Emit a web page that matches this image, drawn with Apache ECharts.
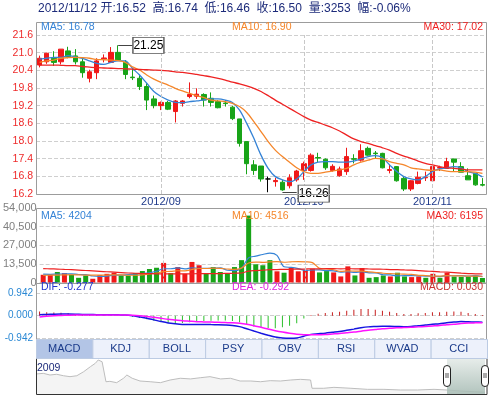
<!DOCTYPE html>
<html><head><meta charset="utf-8">
<script src="https://cdn.jsdelivr.net/npm/echarts@6/dist/echarts.min.js"></script>
<style>html,body{margin:0;padding:0;background:#fff}#c{width:490px;height:396px}</style>
</head><body><div id="c"></div>
<script>
// ---------- data ----------
const dates = ['2012/08/09','2012/08/10','2012/08/13','2012/08/14','2012/08/15','2012/08/16','2012/08/17','2012/08/20','2012/08/21','2012/08/22','2012/08/23','2012/08/24','2012/08/27','2012/08/28','2012/08/29','2012/08/30','2012/08/31',
'2012/09/03','2012/09/04','2012/09/05','2012/09/06','2012/09/07','2012/09/10','2012/09/11','2012/09/12','2012/09/13','2012/09/14','2012/09/17','2012/09/18','2012/09/19','2012/09/20','2012/09/21','2012/09/24','2012/09/25','2012/09/26','2012/09/27','2012/09/28',
'2012/10/08','2012/10/09','2012/10/10','2012/10/11','2012/10/12','2012/10/15','2012/10/16','2012/10/17','2012/10/18','2012/10/19','2012/10/22','2012/10/23','2012/10/24','2012/10/25','2012/10/26','2012/10/29','2012/10/30','2012/10/31',
'2012/11/01','2012/11/02','2012/11/05','2012/11/06','2012/11/07','2012/11/08','2012/11/09','2012/11/12'];
const monthLabels = ['2012/09/03','2012/10/08','2012/11/01'];

const openP  = [20.58,20.69,20.81,20.69,21.06,20.89,20.69,20.13,20.32,20.79,20.67,21.01,20.67,20.17,20.13,19.85,19.43,19.20,19.31,19.00,19.28,19.51,19.52,19.58,19.45,19.34,19.29,19.15,18.75,17.98,17.19,17.15,16.71,16.62,16.60,16.48,16.68,17.00,17.00,17.44,17.38,17.00,16.82,16.96,17.40,17.35,17.75,17.59,17.58,17.00,17.13,16.73,16.37,16.56,16.75,16.65,17.08,17.07,17.39,17.13,16.82,16.90,16.52];
const closeP = [20.81,20.98,20.67,21.12,20.86,20.69,20.32,20.35,20.72,20.82,21.01,20.75,20.26,20.15,19.85,19.39,19.20,19.31,19.08,19.36,19.36,19.58,19.59,19.39,19.31,19.13,19.27,18.76,17.92,17.23,17.00,16.71,16.71,16.66,16.34,16.75,16.98,17.23,17.52,17.42,17.09,17.14,17.05,17.47,17.38,17.67,17.52,17.57,17.09,17.03,16.65,16.37,16.65,16.77,16.77,17.13,17.10,17.30,17.28,16.94,16.68,16.51,16.50];
const lowP   = [20.50,20.62,20.55,20.60,20.81,20.60,20.15,19.99,20.10,20.67,20.65,20.72,20.10,20.07,19.73,19.05,19.11,19.05,19.05,18.63,19.17,19.45,19.43,19.17,19.17,19.11,19.17,18.71,17.81,16.87,16.85,16.62,16.26,16.45,16.31,16.39,16.62,16.68,16.96,17.28,17.02,16.96,16.79,16.85,17.24,17.30,17.50,17.41,17.07,16.90,16.62,16.30,16.30,16.53,16.64,16.65,16.98,17.05,16.96,16.94,16.68,16.48,16.46];
const highP  = [20.90,21.00,21.05,21.12,21.20,21.12,20.81,20.42,20.81,20.94,21.19,21.25,20.75,20.47,20.24,19.96,19.54,19.34,19.36,19.39,19.39,19.99,19.79,19.62,19.65,19.39,19.39,19.20,18.75,17.98,17.35,17.15,16.79,16.75,16.68,16.87,17.02,17.30,17.58,17.60,17.41,17.21,17.13,17.77,17.55,17.89,17.81,17.66,17.60,17.21,17.15,16.79,16.67,16.96,16.96,17.15,17.16,17.43,17.39,17.28,17.07,16.90,16.74];

const ma5  = [20.78,20.81,20.84,20.84,20.90,20.86,20.81,20.72,20.64,20.60,20.67,20.72,20.72,20.47,20.24,19.96,19.68,19.51,19.39,19.31,19.30,19.34,19.36,19.40,19.43,19.43,19.39,19.31,19.05,18.60,18.09,17.52,17.07,16.79,16.68,16.62,16.71,16.96,17.19,17.28,17.30,17.30,17.28,17.28,17.32,17.39,17.47,17.50,17.43,17.19,16.96,16.79,16.71,16.68,16.79,16.96,17.05,17.09,17.13,17.09,16.96,16.90,16.78];
const ma10 = [20.67,20.72,20.75,20.81,20.83,20.84,20.83,20.81,20.77,20.76,20.75,20.73,20.67,20.52,20.41,20.24,20.10,19.99,19.90,19.79,19.70,19.62,19.54,19.47,19.39,19.36,19.34,19.28,19.17,18.97,18.66,18.32,17.98,17.69,17.47,17.28,17.09,16.96,16.90,16.90,16.94,16.98,17.02,17.07,17.19,17.28,17.35,17.41,17.39,17.30,17.24,17.19,17.09,17.05,17.02,17.00,17.02,16.98,16.96,16.96,16.96,16.94,16.90];
const ma30 = [20.58,20.58,20.58,20.57,20.56,20.56,20.53,20.51,20.49,20.48,20.47,20.46,20.45,20.44,20.43,20.42,20.41,20.40,20.38,20.35,20.33,20.30,20.26,20.22,20.18,20.13,20.07,20.00,19.94,19.87,19.79,19.68,19.54,19.39,19.25,19.11,18.97,18.83,18.71,18.63,18.54,18.45,18.34,18.20,18.07,17.98,17.92,17.84,17.77,17.69,17.58,17.49,17.41,17.32,17.24,17.19,17.13,17.09,17.07,17.05,17.02,17.02,17.02];

const volume = [5600,5600,7600,6800,5600,3400,5100,2700,5400,6300,7100,5100,5100,6800,8300,9800,10700,14200,6800,11200,6300,14900,12500,6800,11200,7600,6300,11200,16200,48500,13200,12500,16200,8100,7100,10800,8100,9300,10000,7300,8300,7300,4400,11700,5100,10500,3400,3900,5100,4400,7100,4400,3900,4400,3400,6300,3400,7100,4300,4200,4300,4900,3253];
const volUp  = [1,1,0,1,0,0,0,1,1,1,1,0,0,0,0,0,0,1,0,1,1,1,1,0,0,0,0,0,0,0,0,0,0,1,0,1,1,1,1,0,0,1,1,1,0,1,0,0,0,1,0,0,1,1,0,1,0,1,0,0,0,0,0];
const volMa5  = [6000,5900,6100,6200,6240,5800,5700,4720,4440,4580,5320,5320,5800,6080,6480,7020,8140,9960,9960,10540,9840,10680,10340,10340,10340,10600,8880,8620,10500,17960,19080,20320,21320,19700,11420,10940,10060,8680,9060,9100,8600,8440,7460,7800,7360,7800,7020,6920,5600,5460,4780,4980,4980,4840,4640,4480,4280,4920,4900,5060,4660,4960,4204];
const volMa10 = [5200,5300,5400,5500,5600,5500,5400,5300,5300,5410,5560,5510,5260,5260,5530,6170,6730,7880,8020,8510,8430,9410,10150,10150,10440,10220,9780,9480,10420,14150,14840,14600,14970,15100,14690,15010,15190,15000,14380,10260,9770,9250,8070,8430,8230,8200,7730,7190,6700,6410,6290,6000,5950,5220,5050,4630,4630,4950,4870,4850,4570,4620,4516];
const volMa30 = [10000,9900,9700,9500,9300,9000,8700,8400,8100,7800,7500,7200,6900,6700,6500,6400,6300,6300,6200,6200,6200,6300,6400,6400,6500,6500,6600,6700,6900,8300,8600,8900,9300,9400,9500,9600,9700,9800,9900,9900,10000,10000,9900,10000,9900,9900,9800,9700,9600,9400,9300,9100,8900,8600,8300,8000,7700,7500,7200,6800,6500,6300,6195];

const dif  = [0.04,0.055,0.065,0.07,0.07,0.065,0.055,0.05,0.045,0.04,0.04,0.035,0.03,0.00,-0.05,-0.105,-0.175,-0.245,-0.305,-0.34,-0.365,-0.37,-0.375,-0.37,-0.375,-0.38,-0.39,-0.41,-0.46,-0.55,-0.645,-0.735,-0.82,-0.895,-0.935,-0.95,-0.94,-0.86,-0.785,-0.76,-0.735,-0.70,-0.665,-0.615,-0.565,-0.51,-0.47,-0.455,-0.445,-0.445,-0.455,-0.465,-0.455,-0.42,-0.395,-0.36,-0.34,-0.295,-0.27,-0.245,-0.255,-0.265,-0.277];
const dea  = [-0.05,-0.02,0.00,0.01,0.02,0.03,0.03,0.03,0.03,0.03,0.03,0.03,0.03,0.02,0.00,-0.03,-0.07,-0.11,-0.15,-0.18,-0.21,-0.23,-0.25,-0.26,-0.27,-0.28,-0.29,-0.30,-0.32,-0.36,-0.42,-0.49,-0.56,-0.63,-0.69,-0.74,-0.78,-0.80,-0.80,-0.80,-0.79,-0.77,-0.75,-0.72,-0.69,-0.65,-0.61,-0.58,-0.55,-0.53,-0.51,-0.50,-0.49,-0.47,-0.45,-0.43,-0.41,-0.38,-0.36,-0.33,-0.31,-0.30,-0.292];
const macd = [0.18,0.15,0.13,0.12,0.10,0.07,0.05,0.04,0.03,0.02,0.02,0.01,0.00,-0.04,-0.10,-0.15,-0.21,-0.27,-0.31,-0.32,-0.31,-0.28,-0.25,-0.22,-0.21,-0.20,-0.20,-0.22,-0.28,-0.38,-0.45,-0.49,-0.52,-0.53,-0.49,-0.42,-0.32,-0.12,0.03,0.08,0.11,0.14,0.17,0.21,0.25,0.28,0.28,0.25,0.21,0.17,0.11,0.07,0.07,0.10,0.11,0.14,0.14,0.17,0.18,0.17,0.11,0.07,0.03];

// overview (months since 2009/01, price)
const overviewMonth = [0,0.75,1.44,2.13,2.82,3.5,4.2,4.9,5.6,6.1,6.4,6.8,7.0,7.2,7.6,8.3,9.0,9.35,9.9,10.7,11.75,12.8,13.8,14.85,15.9,16.9,17.9,19.0,20.0,21.0,22.1,23.1,24.1,25.15,26.2,27.2,28.25,28.4,29.6,30.65,32.4,34.1,35.8,37.5,39.25,40.95,42.3,43.7,45.1,46.2];
const overviewPrice = [30,30.5,29.25,29.8,28.7,28.0,28.7,31.7,35.5,38.0,40.5,39.2,39.5,24.2,24.5,23.5,26.8,29.25,26.8,24.75,24.2,23.5,25.5,26.8,26.3,27.2,28.0,26.3,26.8,24.75,24.75,24.2,25.0,24.75,25.5,26.0,25.5,19.3,19.3,20.0,19.3,18.5,18.5,18.0,18.0,18.5,18.0,17.25,16.7,16.3];

const tabNames = ['MACD','KDJ','BOLL','PSY','OBV','RSI','WVAD','CCI'];
const headerText = '2012/11/12 开:16.52  高:16.74  低:16.46  收:16.50  量:3253  幅:-0.06%';
const priceHigh = {date: '2012/08/24', value: 21.25};
const priceLow  = {date: '2012/09/26', value: 16.26};

// ---------- styling ----------
const FF = '"Liberation Sans", Arial, "Noto Sans CJK SC", sans-serif';
const RED = '#f01818', GREEN = '#18a418';
const C5 = '#3583d6', C10 = '#f5862a', C30 = '#ee2222';

const candleData = dates.map((d, i) => {
  const item = {value: [openP[i], closeP[i], lowP[i], highP[i]]};
  if (openP[i] === closeP[i]) item.itemStyle = {color: '#000', color0: '#000', borderColor: '#000', borderColor0: '#000'};
  return item;
});
const volData = volume.map((v, i) => ({value: v, itemStyle: {color: volUp[i] ? RED : GREEN}}));
const overviewData = overviewMonth.map((m, i) => [m, overviewPrice[i]]);
const idx = d => dates.indexOf(d);
const shift = (d, k) => dates[idx(d) + k];

const monthLines = {
  silent: true, symbol: ['none','none'], label: {show: false},
  lineStyle: {type: 'dashed', color: '#c8c8c8', width: 1},
  data: monthLabels.map(m => ({xAxis: m}))
};

function txt(x, y, text, fill, size, align) {
  return {type: 'text', x: x, y: y, z: 100,
    style: {text: text, fill: fill, font: size + 'px ' + FF, textAlign: align || 'left', textVerticalAlign: 'middle', align: align || 'left', verticalAlign: 'middle'}};
}
function box(x1, y1, x2, y2, stroke) {
  return {type: 'rect', z: 50, silent: true, shape: {x: x1 + 0.5, y: y1 + 0.5, width: x2 - x1, height: y2 - y1},
    style: {fill: 'none', stroke: stroke || '#9c9c9c', lineWidth: 1}};
}

const graphics = [
  txt(38, 9, headerText, '#1d2b7a', 12),
  box(36, 22, 486, 194), box(36, 208, 486, 283), box(36, 283, 486, 339),
  txt(41, 27.5, 'MA5: 16.78', C5, 10.5), txt(232, 27.5, 'MA10: 16.90', C10, 10.5), txt(483, 27.5, 'MA30: 17.02', C30, 10.5, 'right'),
  txt(41, 216, 'MA5: 4204', C5, 10.5), txt(232, 216, 'MA10: 4516', C10, 10.5), txt(483, 216, 'MA30: 6195', C30, 10.5, 'right'),
  txt(41, 287.5, 'DIF: -0.277', '#2233cc', 10.5), txt(232, 287.5, 'DEA: -0.292', '#e020e0', 10.5), txt(483, 287.5, 'MACD: 0.030', '#c83232', 10.5, 'right')
];
// tabs
const tabW = (487 - 36) / tabNames.length;
tabNames.forEach((n, i) => {
  const x = 36 + i * tabW;
  graphics.push({type: 'rect', z: 60, silent: true, shape: {x: x + 0.5, y: 339.5, width: tabW, height: 19},
    style: {fill: i === 0 ? '#b3c5e6' : '#edf1fb', stroke: '#bccbe3', lineWidth: 1}});
  graphics.push(Object.assign(txt(x + tabW / 2, 349, n, '#1a3a8a', 11, 'center'), {z: 61}));
});
// slider frame, window, label and handles
graphics.push({type: 'rect', z: 40, silent: true, shape: {x: 447, y: 359, width: 38, height: 35},
  style: {fill: {type: 'linear', x: 0, y: 0, x2: 0, y2: 1, colorStops: [{offset: 0, color: 'rgba(226,233,230,0.85)'}, {offset: 1, color: 'rgba(165,186,178,0.85)'}]}}});
graphics.push({type: 'rect', z: 50, silent: true, shape: {x: 36.5, y: 358.5, width: 450.5, height: 36}, style: {fill: 'none', stroke: '#333', lineWidth: 1}});
graphics.push(Object.assign(txt(37, 368.5, '2009', '#1d2b7a', 10.5), {z: 70}));
[443, 481].forEach(hx => {
  graphics.push({type: 'rect', z: 80, silent: true, shape: {x: hx + 0.5, y: 365.5, width: 7, height: 21, r: 3.5}, style: {fill: '#fff', stroke: '#222', lineWidth: 1}});
  graphics.push({type: 'line', z: 81, silent: true, shape: {x1: hx + 3, y1: 373, x2: hx + 3, y2: 378}, style: {stroke: '#555', lineWidth: 1}});
  graphics.push({type: 'line', z: 81, silent: true, shape: {x1: hx + 5, y1: 373, x2: hx + 5, y2: 378}, style: {stroke: '#555', lineWidth: 1}});
});

const hiddenCat = (gi) => ({type: 'category', gridIndex: gi, data: dates, boundaryGap: true,
  axisLine: {show: false}, axisTick: {show: false}, axisLabel: {show: false}, splitLine: {show: false}});

const option = {
  animation: false,
  backgroundColor: '#fff',
  textStyle: {fontFamily: FF},
  grid: [
    {left: 36, right: 4, top: 35, height: 159},
    {left: 36, right: 4, top: 208, height: 74.5},
    {left: 36, right: 4, top: 293.3, height: 44.8},
    {left: 36, right: 3, top: 358, height: 36}
  ],
  xAxis: [
    {type: 'category', gridIndex: 0, data: dates, boundaryGap: true,
     axisLine: {show: false}, axisTick: {show: false}, splitLine: {show: false},
     axisLabel: {show: true, interval: (i, v) => monthLabels.indexOf(v) >= 0, formatter: v => v.slice(0, 7),
       color: '#1f3a8a', fontSize: 11, margin: 2, fontFamily: FF}},
    hiddenCat(1), hiddenCat(2),
    {type: 'value', gridIndex: 3, min: 0, max: 46.4, show: false}
  ],
  yAxis: [
    {type: 'value', gridIndex: 0, min: 16.2, max: 21.6, interval: 0.6,
     axisLine: {show: false}, axisTick: {show: false},
     axisLabel: {color: '#ee2a2a', fontSize: 10.5, margin: 3, formatter: v => v.toFixed(1), fontFamily: FF},
     splitLine: {lineStyle: {type: 'dashed', color: '#cfcfcf'}}},
    {type: 'value', gridIndex: 1, min: 0, max: 54000, interval: 13500,
     axisLine: {show: false}, axisTick: {show: false},
     axisLabel: {color: '#808080', fontSize: 11, margin: 3, fontFamily: FF},
     splitLine: {lineStyle: {type: 'dashed', color: '#cfcfcf'}}},
    {type: 'value', gridIndex: 2, min: -0.942, max: 0.942, interval: 0.942,
     axisLine: {show: false}, axisTick: {show: false},
     axisLabel: {color: '#2a88d4', fontSize: 10, margin: 3, formatter: v => v.toFixed(3), fontFamily: FF},
     splitLine: {lineStyle: {type: 'dashed', color: '#cfcfcf'}}},
    {type: 'value', gridIndex: 3, min: 15, max: 42, show: false}
  ],
  series: [
    {type: 'candlestick', xAxisIndex: 0, yAxisIndex: 0, data: candleData, barWidth: 5,
     itemStyle: {color: RED, color0: GREEN, borderColor: RED, borderColor0: GREEN, borderWidth: 1},
     markLine: {silent: true, symbol: ['none','none'], label: {show: false},
       lineStyle: {type: 'solid', color: '#444', width: 1},
       data: [
         [{coord: [priceHigh.date, priceHigh.value]}, {coord: [shift(priceHigh.date, 2), priceHigh.value]}],
         [{coord: [priceLow.date, priceLow.value]}, {coord: [shift(priceLow.date, 2), priceLow.value]}]
       ]},
     markPoint: {silent: true,
       data: [
         {coord: [shift(priceHigh.date, 2), priceHigh.value], symbol: 'rect', symbolSize: [31, 16], symbolOffset: [16, 0],
          itemStyle: {color: '#fff', borderColor: '#555', borderWidth: 1},
          label: {show: true, position: 'inside', formatter: priceHigh.value.toFixed(2), color: '#000', fontSize: 12, fontFamily: FF}},
         {coord: [shift(priceLow.date, 2), priceLow.value], symbol: 'rect', symbolSize: [31, 17], symbolOffset: [17, 1.5],
          itemStyle: {color: '#fff', borderColor: '#555', borderWidth: 1},
          label: {show: true, position: 'inside', formatter: priceLow.value.toFixed(2), color: '#000', fontSize: 12, fontFamily: FF}}
       ]}},
    {type: 'line', xAxisIndex: 0, yAxisIndex: 0, data: ma5, showSymbol: false, smooth: 0.3, lineStyle: {color: C5, width: 1.3}, markLine: monthLines},
    {type: 'line', xAxisIndex: 0, yAxisIndex: 0, data: ma10, showSymbol: false, smooth: 0.3, lineStyle: {color: C10, width: 1.3}},
    {type: 'line', xAxisIndex: 0, yAxisIndex: 0, data: ma30, showSymbol: false, smooth: 0.3, lineStyle: {color: C30, width: 1.3}},

    {type: 'bar', xAxisIndex: 1, yAxisIndex: 1, data: volData, barWidth: 5, markLine: monthLines},
    {type: 'line', xAxisIndex: 1, yAxisIndex: 1, data: volMa5, showSymbol: false, smooth: 0.3, lineStyle: {color: C5, width: 1.2}},
    {type: 'line', xAxisIndex: 1, yAxisIndex: 1, data: volMa10, showSymbol: false, smooth: 0.3, lineStyle: {color: C10, width: 1.2}},
    {type: 'line', xAxisIndex: 1, yAxisIndex: 1, data: volMa30, showSymbol: false, smooth: 0.3, lineStyle: {color: C30, width: 1.2}},

    {type: 'bar', xAxisIndex: 2, yAxisIndex: 2, data: macd, barWidth: 1,
     itemStyle: {color: p => p.value >= 0 ? '#c81e1e' : '#2cc02c'}},
    {type: 'line', xAxisIndex: 2, yAxisIndex: 2, data: dif, showSymbol: false, smooth: 0.3, clip: false, lineStyle: {color: '#1515e0', width: 1.5}},
    {type: 'line', xAxisIndex: 2, yAxisIndex: 2, data: dea, showSymbol: false, smooth: 0.3, clip: false, lineStyle: {color: '#ff10ff', width: 1.5}},

    {type: 'line', xAxisIndex: 3, yAxisIndex: 3, data: overviewData, showSymbol: false, z: 1,
     lineStyle: {color: '#bdbdbd', width: 1}, areaStyle: {color: '#f0f0f0', origin: 'start'}}
  ],
  graphic: graphics
};

const chart = echarts.init(document.getElementById('c'), null, {renderer: 'canvas'});
chart.setOption(option);
</script>
</body></html>
